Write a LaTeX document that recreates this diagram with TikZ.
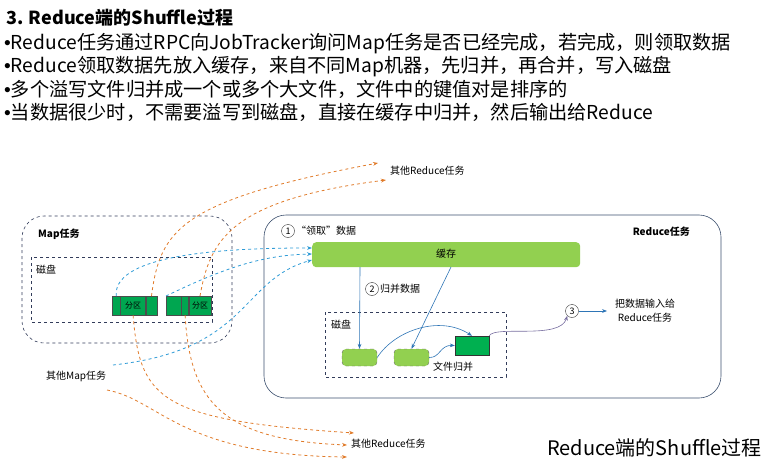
\documentclass[tikz,border=0pt]{standalone}
\usepackage{fontspec}
\setmainfont{Liberation Sans}
\newfontfamily\cjk{Noto Sans CJK SC}
\usetikzlibrary{arrows.meta}
\newcommand{\bul}{{\rmfamily\textbullet}}
\begin{document}
\begin{tikzpicture}[x=1pt,y=-1pt,
  or/.style={draw={rgb,255:red,224;green,123;blue,42},dashed,thick,-{Stealth[length=5pt]}},
  bl/.style={draw={rgb,255:red,46;green,155;blue,214},dashed,thick,-{Stealth[length=5pt]}},
  sb/.style={draw={rgb,255:red,46;green,117;blue,182},semithick,-{Stealth[length=5pt]}},
  dbox/.style={draw={rgb,255:red,50;green,60;blue,90},dashed,semithick},
  lab/.style={font=\cjk\fontsize{10}{12}\selectfont,inner sep=0pt},
  part/.style={draw=black!70,fill={rgb,255:red,0;green,166;blue,80},minimum height=19pt,inner sep=0pt},
  sg/.style={draw=black!60,dashed,fill={rgb,255:red,146;green,208;blue,80},rounded corners=4pt,minimum width=35pt,minimum height=17pt},
  circ/.style={circle,draw=black!80,inner sep=0.5pt,minimum size=13pt,font=\cjk\fontsize{9}{10}\selectfont}]
\useasboundingbox (0,0) rectangle (765,476);
% text
\node[anchor=west,font=\cjk\bfseries\fontsize{18}{20}\selectfont,inner sep=0pt] (title) at (6,18) {3. Reduce端的Shuffle过程};
\node[anchor=north west,align=left,font=\cjk\fontsize{19.2}{23.3}\selectfont,inner sep=0pt] (bul) at (4,33)
 {\bul Reduce任务通过RPC向JobTracker询问Map任务是否已经完成，若完成，则领取数据\\
  \bul Reduce领取数据先放入缓存，来自不同Map机器，先归并，再合并，写入磁盘\\
  \bul 多个溢写文件归并成一个或多个大文件，文件中的键值对是排序的\\
  \bul 当数据很少时，不需要溢写到磁盘，直接在缓存中归并，然后输出给Reduce};
% map box
\draw[dbox,rounded corners=22pt] (22,216) rectangle (232,343);
\node[lab,anchor=west,font=\cjk\bfseries\fontsize{10}{12}\selectfont] (mapt) at (38,234) {Map任务};
\draw[dbox] (31,257) rectangle (212,322);
\node[lab,anchor=west] (md) at (36,270) {磁盘};
\node[part,minimum width=8pt,anchor=north west] (p1a) at (112,296) {};
\node[part,minimum width=25pt,anchor=west,font=\cjk\fontsize{8}{9}\selectfont] (p1b) at (p1a.east) {分区};
\node[part,minimum width=11pt,anchor=west] (p1c) at (p1b.east) {};
\node[part,minimum width=15pt,anchor=north west] (p2a) at (166,296) {};
\node[part,minimum width=7pt,anchor=west] (p2b) at (p2a.east) {};
\node[part,minimum width=22pt,anchor=west,font=\cjk\fontsize{8}{9}\selectfont] (p2c) at (p2b.east) {分区};
% reduce box
\draw[draw={rgb,255:red,60;green,80;blue,110},semithick,rounded corners=22pt] (264,215) rectangle (721,398);
\node[lab,anchor=east,font=\cjk\bfseries\fontsize{10}{12}\selectfont] (redt) at (690,232) {Reduce任务};
\node[circ] (c1) at (288,231) {1};
\node[lab,anchor=west] (t1) at (296,231) {“领取”数据};
\node[fill={rgb,255:red,146;green,208;blue,80},rounded corners=4pt,minimum width=268pt,minimum height=25pt,anchor=north west,lab] (cache) at (312,242) {};
\node[lab] (ct) at (446,254) {缓存};
\node[circ] (c2) at (372,289) {2};
\node[lab,anchor=west] (t2) at (380,289) {归并数据};
\draw[dbox] (325,312) rectangle (506,377);
\node[lab,anchor=west] (rd) at (331,325) {磁盘};
\node[sg] (A) at (359.5,357.5) {};
\node[sg] (B) at (411.5,357.5) {};
\node[draw=black!80,fill={rgb,255:red,0;green,176;blue,80},minimum width=34pt,minimum height=19pt,inner sep=0pt] (C) at (472,345.5) {};
\node[lab,anchor=west] (fm) at (433,367) {文件归并};
\node[circ] (c3) at (572,311) {3};
\node[lab,align=center,font=\cjk\fontsize{10}{14}\selectfont] (out) at (645,311) {把数据输入给\\Reduce任务};
\draw[sb] (360,267) -- (A.north);
\draw[sb] (451,267) -- (B.north);
\draw[sb] (A.east) .. controls (395,330) and (440,315) .. (C.north);
\draw[sb] (B.east) .. controls (440,358) and (440,345) .. (C.west);
\draw[semithick,draw={rgb,255:red,120;green,110;blue,160},-{Stealth[length=5pt]}] (C.north east) .. controls (495,325) and (560,340) .. (c3.south west);
\draw[sb] (c3.east) -- (607,311);
% other labels
\node[lab,anchor=west] (om) at (46,376) {其他Map任务};
\node[lab,anchor=west] (ort) at (390,171) {其他Reduce任务};
\node[lab,anchor=west] (orb) at (351,444) {其他Reduce任务};
\coordinate (e1) at (378,163);
\coordinate (e2) at (386,180);
\coordinate (b1) at (354,433);
\coordinate (b2) at (347,445);
\coordinate (b3) at (347,457);
% blue dashed
\draw[bl] (p1a.north) .. controls (112,250) and (250,248) .. (cache.west|-0,248);
\draw[bl] (p2a.north west) .. controls (220,270) and (260,255) .. (cache.west|-0,254);
\draw[bl] (113,365) .. controls (250,350) and (240,280) .. (cache.west|-0,260);
% orange dashed
\draw[or] (p1c.north) .. controls (160,230) and (180,200) .. (e1);
\draw[or] (p2c.north) .. controls (210,240) and (230,200) .. (e2);
\draw[or] (p1b.south) .. controls (140,400) and (160,420) .. (b1);
\draw[or] (p2b.south) .. controls (190,400) and (220,440) .. (b2);
\draw[or] (107,390) .. controls (160,400) and (180,455) .. (b3);
% footer
\node[lab,anchor=east,font=\cjk\fontsize{20}{22}\selectfont] (foot) at (762,448) {Reduce端的Shuffle过程};
\end{tikzpicture}
\end{document}
